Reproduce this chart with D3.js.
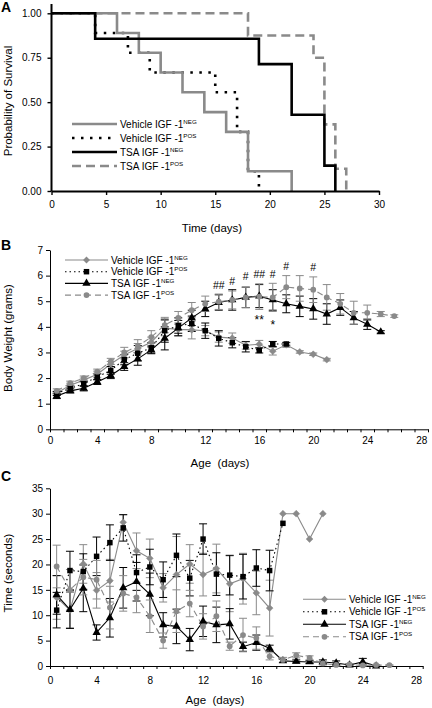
<!DOCTYPE html>
<html><head><meta charset="utf-8">
<script src="https://cdn.jsdelivr.net/npm/d3@7"></script>
<style>body{margin:0;background:#fff}svg{display:block}text{font-family:Arial,"Liberation Sans",sans-serif;fill:#000}</style>
</head><body><svg id="c" width="432" height="708"></svg>
<script>
// ---------- DATA ----------
const seriesLabels = ["Vehicle IGF -1", "Vehicle IGF -1", "TSA IGF -1", "TSA IGF -1"];
const seriesSups = ["NEG", "POS", "NEG", "POS"];

// Panel A: Kaplan-Meier steps (time in days, survival probability)
const survVehNegT = [0, 6, 8, 10, 12, 14, 16, 18, 22];
const survVehNegS = [1, 0.889, 0.778, 0.667, 0.556, 0.444, 0.333, 0.111, 0];
const survVehPosT = [0, 4, 7, 9, 15, 17, 18, 19];
const survVehPosS = [1, 0.889, 0.778, 0.667, 0.556, 0.333, 0.111, 0];
const survTsaNegT = [0, 4, 19, 22, 25, 26];
const survTsaNegS = [1, 0.857, 0.714, 0.429, 0.143, 0];
const survTsaPosT = [0, 18, 24, 25, 26, 27];
const survTsaPosS = [1, 0.875, 0.75, 0.375, 0.125, 0];
const ticksAX = [0, 5, 10, 15, 20, 25, 30];
const ticksAY = [0, 0.25, 0.5, 0.75, 1];

// Panel B: body weight (grams), day 1 onward
const wVehNeg = [1.42, 1.72, 1.92, 2.15, 2.55, 2.9, 3.15, 3.4, 3.95, 3.9, 3.88, 3.85, 3.6, 3.56, 3.28, 3.32, 3.05, 3.3, 3.02, 2.93, 2.72];
const wVehNegErr = [0.05, 0.08, 0.08, 0.12, 0.1, 0.15, 0.2, 0.2, 0.3, 0.25, 0.35, 0.2, 0.2, 0.2, 0.15, 0.15, 0.15, 0.1, 0.05, 0.05, 0.05];
const wVehPos = [1.4, 1.6, 1.78, 2.05, 2.3, 2.72, 2.97, 3.18, 3.85, 4.05, 4.12, 3.85, 3.55, 3.38, 3.22, 3.08, 3.33, 3.33];
const wVehPosErr = [0.08, 0.1, 0.1, 0.12, 0.15, 0.2, 0.3, 0.2, 0.45, 0.3, 0.3, 0.3, 0.3, 0.2, 0.2, 0.1, 0.1, 0.05];
const wTsaNeg = [1.3, 1.5, 1.6, 1.85, 2.1, 2.45, 2.75, 3.1, 3.55, 3.95, 4.35, 4.7, 4.95, 5.05, 5.15, 5.2, 5.05, 4.9, 4.8, 4.7, 4.5, 4.75, 4.35, 4.1, 3.8];
const wTsaNegErr = [0.1, 0.08, 0.1, 0.1, 0.12, 0.15, 0.25, 0.15, 0.45, 0.3, 0.3, 0.3, 0.3, 0.4, 0.4, 0.45, 0.4, 0.35, 0.4, 0.4, 0.4, 0.3, 0.25, 0.2, 0.05];
const wTsaPos = [1.5, 1.8, 2.0, 2.25, 2.65, 3.0, 3.25, 3.6, 4.07, 4.35, 4.65, 4.9, 4.98, 5.05, 5.15, 5.18, 5.15, 5.55, 5.5, 5.45, 5.15, 4.9, 4.55, 4.55, 4.5, 4.42];
const wTsaPosErr = [0.08, 0.08, 0.08, 0.1, 0.12, 0.2, 0.25, 0.25, 0.3, 0.25, 0.3, 0.3, 0.3, 0.35, 0.4, 0.5, 0.55, 0.45, 0.5, 0.5, 0.5, 0.4, 0.45, 0.3, 0.1, 0.05];
const ticksBY = [0, 1, 2, 3, 4, 5, 6, 7];
const sigLabels = ["##", "#", "#", "##", "#", "#", "#", "**", "*"];
const sigDays = [13, 14, 15, 16, 17, 18, 20, 16, 17];
const sigValues = [5.64, 5.8, 5.98, 6.05, 6.05, 6.38, 6.33, 4.4, 4.2];

// Panel C: righting time (seconds), day 1 onward
const tVehNeg = [13.5, 11.0, 20.1, 14.9, 16.8, 28.3, 22.7, 21.2, 15.4, 18.0, 20.1, 18.0, 19.2, 16.2, 17.2, 14.4, 11.4, 30, 30, 25, 30];
const tVehNegErr = [4.3, 3.5, 3.8, 3.5, 4.2, 1.5, 3.5, 3.8, 2.8, 7.5, 3.8, 4.2, 4.8, 5.5, 5.0, 4.3, 5.5, 0, 0, 0, 0];
const tVehPos = [11.0, 18.8, 18.6, 21.6, 24.3, 27.2, 18.4, 19.5, 17.0, 21.8, 17.3, 25.0, 18.1, 17.9, 17.6, 19.3, 18.8, 28.1];
const tVehPosErr = [3.5, 3.8, 3.5, 3.8, 3.5, 2.6, 3.5, 3.5, 3.5, 4.2, 3.5, 3.0, 4.2, 3.9, 4.4, 3.6, 4.0, 0];
const tTsaNeg = [14.0, 11.1, 15.3, 6.6, 9.5, 15.4, 16.6, 14.1, 8.1, 7.8, 5.2, 8.8, 8.1, 8.3, 3.8, 4.6, 3.5, 1.0, 0.9, 0.8, 0.8, 0.6, 0.2, 0.8, 0.0];
const tTsaNegErr = [3.8, 3.7, 4.6, 1.5, 3.8, 4.0, 3.8, 4.2, 2.4, 3.4, 2.2, 3.0, 3.5, 3.0, 0.9, 1.5, 0.6, 0.3, 0.3, 0.3, 0.4, 0.4, 0.2, 0.7, 0.1];
const tTsaPos = [19.6, 15.0, 17.5, 17.0, 11.5, 14.3, 13.5, 9.8, 5.0, 10.8, 12.3, 7.8, 9.8, 3.9, 6.1, 5.5, 1.9, 1.2, 2.1, 1.6, 0.5, 0.2, 0.3, 0.1, 0.2, 0.15];
const tTsaPosErr = [4.2, 4.0, 3.5, 3.8, 4.2, 3.5, 3.0, 3.2, 1.5, 4.2, 2.6, 2.5, 3.0, 0.8, 3.3, 2.2, 0.7, 0.5, 0.5, 0.4, 0.3, 0.2, 0.2, 0.1, 0.1, 0.1];
const ticksCY = [0, 5, 10, 15, 20, 25, 30, 35];
const ticksAgeLabels = [0.5, 4, 8, 12, 16, 20, 24, 28];

// ---------- STYLE ----------
const GRAY = "#8a8a8a";
const FONT = 'Arial,"Liberation Sans",sans-serif';
const svg = d3.select("#c");

function panelLetter(t, x, y) {
  svg.append("text").attr("x", x).attr("y", y).attr("font-size", 14).attr("font-weight", "bold").attr("fill", "#000").text(t);
}
function legendText(g, x, y, i, fs) {
  const t = g.append("text").attr("x", x).attr("y", y).attr("font-size", fs).attr("fill", "#000").attr("dominant-baseline", "central").text(seriesLabels[i]);
  t.append("tspan").attr("font-size", fs * 0.62).attr("dy", -fs * 0.35).text(seriesSups[i]);
}
function styleAxis(g, w) {
  g.select(".domain").attr("stroke", "#000").attr("stroke-width", w);
  g.selectAll(".tick line").attr("stroke", "#000").attr("stroke-width", Math.max(1, w * 0.7));
  g.selectAll("text").attr("font-family", FONT).attr("fill", "#000");
}

// ---------- PANEL A ----------
(function () {
  const x = d3.scaleLinear().domain([0, 30]).range([51.5, 379]);
  const y = d3.scaleLinear().domain([0, 1]).range([191, 13.3]);
  const curves = [
    { t: survTsaPosT, s: survTsaPosS, c: GRAY, d: "9,5", w: 2.6 },
    { t: survVehPosT, s: survVehPosS, c: "#000", d: "2.5,6.5", w: 2.6 },
    { t: survVehNegT, s: survVehNegS, c: GRAY, d: null, w: 2.6 },
    { t: survTsaNegT, s: survTsaNegS, c: "#000", d: null, w: 2.6 }
  ];
  const line = d3.line().x(d => x(d[0])).y(d => y(d[1])).curve(d3.curveStepAfter);
  curves.forEach(cv => {
    svg.append("path").attr("d", line(cv.t.map((t, i) => [t, cv.s[i]])))
      .attr("fill", "none").attr("stroke", cv.c).attr("stroke-width", cv.w)
      .attr("stroke-dasharray", cv.d);
  });
  const gx = svg.append("g").attr("transform", "translate(0,191)")
    .call(d3.axisBottom(x).tickValues(ticksAX).tickSize(4).tickSizeOuter(0).tickPadding(6));
  gx.selectAll("text").attr("font-size", 10);
  styleAxis(gx, 2);
  const gy = svg.append("g").attr("transform", "translate(51.5,0)")
    .call(d3.axisLeft(y).tickValues(ticksAY).tickFormat(d3.format(".2f")).tickSize(4).tickSizeOuter(0).tickPadding(6));
  gy.selectAll("text").attr("font-size", 10);
  styleAxis(gy, 2);
  gy.select(".domain").attr("d", "M0,4V191");
  svg.append("text").attr("x", 212).attr("y", 228).attr("text-anchor", "middle").attr("dominant-baseline", "central").attr("font-size", 11.5).text("Time (days)");
  svg.append("text").attr("transform", "translate(8,101) rotate(-90)").attr("text-anchor", "middle").attr("dominant-baseline", "central").attr("font-size", 11.5).text("Probability of Survival");
  const lg = svg.append("g");
  const order = [2, 1, 3, 0];
  [0, 1, 2, 3].forEach(i => {
    const cv = curves[order[i]];
    const yy = 124 + i * 14;
    lg.append("line").attr("x1", 72).attr("x2", 117).attr("y1", yy).attr("y2", yy)
      .attr("stroke", cv.c).attr("stroke-width", cv.w).attr("stroke-dasharray", cv.d);
    legendText(lg, 120, yy, i, 10);
  });
  panelLetter("A", 1, 12);
})();

// ---------- PANELS B, C ----------
const symbols = [d3.symbolDiamond2 || d3.symbolDiamond, d3.symbolSquare, d3.symbolTriangle, d3.symbolCircle];
const symSize = [30, 30, 30, 26];
const colors = [GRAY, "#000", "#000", GRAY];
const dashes = [null, "1.5,3", null, "6,4"];

function linePanel(cfg) {
  const x = d3.scaleLinear().domain([0.5, 28.5]).range([50, cfg.xEnd]);
  const y = d3.scaleLinear().domain([0, cfg.yMax]).range([cfg.y0, cfg.yTop]);
  const gx = svg.append("g").attr("transform", `translate(0,${cfg.y0})`)
    .call(d3.axisBottom(x).tickValues(d3.range(0.5, 28.6, 1)).tickFormat("").tickSize(3).tickSizeOuter(0));
  styleAxis(gx, 1);
  const gxl = svg.append("g").attr("transform", `translate(0,${cfg.y0})`)
    .call(d3.axisBottom(x).tickValues(ticksAgeLabels).tickFormat(d => d < 1 ? "0" : d).tickSize(0).tickPadding(cfg.labPad));
  gxl.select(".domain").remove();
  gxl.selectAll("text").attr("font-size", 10);
  styleAxis(gxl, 1);
  const gy = svg.append("g").attr("transform", "translate(50,0)")
    .call(d3.axisLeft(y).tickValues(cfg.yTicks).tickFormat(d3.format("d")).tickSize(4).tickSizeOuter(0).tickPadding(3));
  gy.selectAll("text").attr("font-size", 10);
  styleAxis(gy, 1);

  const order = [0, 1, 2, 3];
  const layer = svg.append("g");
  order.forEach(i => {
    const vals = cfg.vals[i], errs = cfg.errs[i];
    const pts = vals.map((v, k) => [k + 1, v, errs[k]]);
    const g = layer.append("g");
    g.append("path").attr("d", d3.line().x(d => x(d[0])).y(d => y(d[1]))(pts))
      .attr("fill", "none").attr("stroke", colors[i]).attr("stroke-width", 1.1).attr("stroke-dasharray", dashes[i]);
    pts.filter(d => d[2] > 0).forEach(d => {
      const xx = x(d[0]), y1 = y(d[1] + d[2]), y2 = y(Math.max(0, d[1] - d[2]));
      g.append("path").attr("d", `M${xx},${y1}V${y2}M${xx - 4},${y1}H${xx + 4}M${xx - 4},${y2}H${xx + 4}`)
        .attr("stroke", colors[i]).attr("stroke-width", 1).attr("fill", "none");
    });
  });
  order.forEach(i => {
    const pts = cfg.vals[i].map((v, k) => [k + 1, v]);
    layer.append("g").selectAll("path").data(pts).join("path")
      .attr("d", d3.symbol(symbols[i], symSize[i]))
      .attr("transform", d => `translate(${x(d[0])},${y(d[1])})`)
      .attr("fill", colors[i]).attr("stroke", symbols[i] === d3.symbolDiamond2 ? colors[i] : "none").attr("stroke-width", 0.5);
  });
  // legend
  const lg = svg.append("g");
  [0, 1, 2, 3].forEach(i => {
    const yy = cfg.legY + i * cfg.legDy;
    lg.append("line").attr("x1", cfg.legX).attr("x2", cfg.legX + 43).attr("y1", yy).attr("y2", yy)
      .attr("stroke", colors[i]).attr("stroke-width", 1.1).attr("stroke-dasharray", dashes[i]);
    lg.append("path").attr("d", d3.symbol(symbols[i], symSize[i])).attr("transform", `translate(${cfg.legX + 21.5},${yy})`).attr("fill", colors[i]);
    legendText(lg, cfg.legX + 46, yy, i, 10);
  });
  svg.append("text").attr("x", cfg.xtX).attr("y", cfg.xtY).attr("text-anchor", "middle").attr("dominant-baseline", "central").attr("font-size", 11.5).attr("xml:space", "preserve").text("Age  (days)");
  svg.append("text").attr("transform", `translate(8,${cfg.ytY}) rotate(-90)`).attr("text-anchor", "middle").attr("dominant-baseline", "central").attr("font-size", 11.5).text(cfg.ytitle);
  return { x, y };
}

const sB = linePanel({
  xEnd: 428, y0: 429.3, yTop: 250, yMax: 7, yTicks: ticksBY, labPad: 8,
  vals: [wVehNeg, wVehPos, wTsaNeg, wTsaPos], errs: [wVehNegErr, wVehPosErr, wTsaNegErr, wTsaPosErr],
  legX: 65, legY: 260, legDy: 11.7, xtX: 220, xtY: 463, ytY: 338, ytitle: "Body Weight (grams)"
});
sigLabels.forEach((s, i) => {
  svg.append("text").attr("x", sB.x(sigDays[i])).attr("y", sB.y(sigValues[i])).attr("text-anchor", "middle")
    .attr("dominant-baseline", "central").attr("fill", "#000").attr("font-size", s.includes("*") ? 12 : 10.5)
    .attr("dy", s.includes("*") ? 3 : 0).text(s);
});
panelLetter("B", 1, 250);

linePanel({
  xEnd: 422.7, y0: 666, yTop: 488.3, yMax: 35, yTicks: ticksCY, labPad: 11,
  vals: [tVehNeg, tVehPos, tTsaNeg, tTsaPos], errs: [tVehNegErr, tVehPosErr, tTsaNegErr, tTsaPosErr],
  legX: 303, legY: 599.3, legDy: 12.5, xtX: 215, xtY: 700, ytY: 573, ytitle: "Time (seconds)"
});
panelLetter("C", 1, 481);
</script></body></html>
